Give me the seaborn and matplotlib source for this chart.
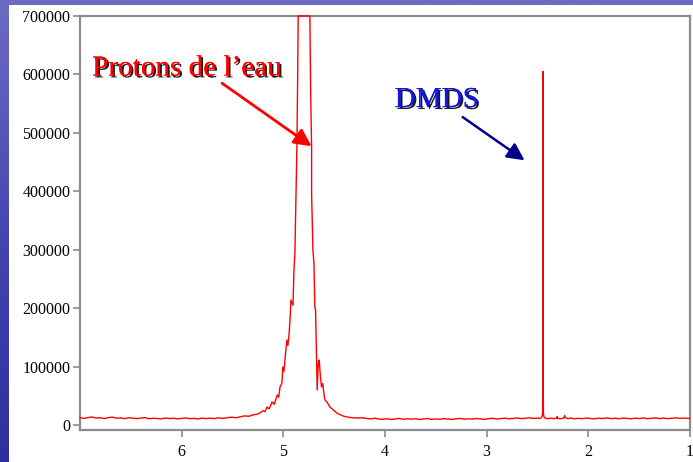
import numpy as np
import matplotlib
matplotlib.use("Agg")
import matplotlib.pyplot as plt
import matplotlib.patheffects as pe
from matplotlib.patches import Rectangle
from matplotlib.colors import LinearSegmentedColormap
import seaborn as sns

# --- 1H spectrum (chemical shift in ppm, intensity) ---
baseline_left_ppm = [7.00, 6.96, 6.92, 6.88, 6.84, 6.80, 6.76, 6.72, 6.68, 6.64, 6.60,
                     6.56, 6.52, 6.48, 6.44, 6.40, 6.36, 6.32, 6.28, 6.24, 6.20, 6.16,
                     6.12, 6.08, 6.04, 6.00, 5.96, 5.92, 5.88, 5.84, 5.80, 5.76, 5.72,
                     5.68, 5.64, 5.60, 5.56, 5.53]
baseline_left_int = [12500, 11200, 12800, 13600, 11900, 12300, 11000, 12700, 13300, 11600, 12100,
                     10800, 12400, 11700, 10900, 11800, 12600, 10700, 11500, 11100, 10400, 11900,
                     11000, 11600, 10500, 11200, 12000, 10800, 11400, 10300, 11700, 11000, 11600,
                     10900, 12200, 11400, 12000, 13100]

water_ppm = [5.50, 5.46, 5.42, 5.38, 5.34, 5.30, 5.26, 5.23, 5.20, 5.18, 5.16, 5.14,
             5.11, 5.09, 5.06, 5.045, 5.033, 5.015, 5.004, 4.994, 4.984, 4.975, 4.965,
             4.955, 4.945, 4.935, 4.925, 4.905, 4.895, 4.886, 4.876, 4.866, 4.858,
             4.854, 4.80, 4.76, 4.739, 4.732, 4.722, 4.722, 4.709, 4.699, 4.690, 4.683,
             4.673, 4.667, 4.657, 4.647, 4.636, 4.624, 4.612, 4.60, 4.591, 4.57, 4.542,
             4.51, 4.473, 4.44, 4.41, 4.375, 4.34, 4.30, 4.26]
water_int = [13200, 12400, 14100, 15600, 14800, 17200, 18400, 20500, 24500, 22800, 30800, 27500,
             39400, 35200, 51300, 47600, 65000, 71000, 99200, 92000, 111200, 128000, 145400,
             136000, 152000, 178000, 213900, 205000, 268000, 294300, 385000, 482500, 612500,
             700000, 700000, 700000, 700000, 578300, 475700, 397000, 299400, 277200, 201900, 196800,
             114600, 59900, 104000, 111200, 84000, 65000, 71000, 52000, 42800, 39000, 30800,
             26000, 20500, 17600, 15200, 13700, 12800, 12100, 12000]

baseline_mid_ppm = [4.22, 4.18, 4.14, 4.10, 4.06, 4.02, 3.98, 3.94, 3.90, 3.86, 3.82,
                    3.78, 3.74, 3.70, 3.66, 3.62, 3.58, 3.54, 3.50, 3.46, 3.42, 3.38,
                    3.34, 3.30, 3.26, 3.22, 3.18, 3.14, 3.10, 3.06, 3.02, 2.98, 2.94,
                    2.90, 2.86, 2.82, 2.78, 2.74, 2.70, 2.66, 2.62, 2.58, 2.54, 2.50]
baseline_mid_int = [12300, 11100, 10400, 11600, 10100, 9800, 10700, 9500, 10200, 11300, 9700,
                    10500, 9900, 10800, 9400, 10300, 11000, 9600, 10400, 9800, 10900, 10100,
                    9500, 10600, 11200, 9900, 10500, 10000, 11100, 10300, 9700, 10800, 11400,
                    10200, 10900, 11700, 10600, 11300, 12000, 10900, 11500, 12300, 11200, 11900]

dmds_ppm = [2.48, 2.465, 2.455, 2.450, 2.448, 2.446, 2.444, 2.442, 2.435, 2.42, 2.40]
dmds_int = [11000, 12200, 14500, 20000, 80000, 605000, 80000, 19400, 13000, 11500, 10800]

baseline_right_ppm = [2.37, 2.34, 2.31, 2.306, 2.30, 2.27, 2.24, 2.234, 2.225, 2.20, 2.17,
                      2.14, 2.10, 2.06, 2.02, 1.98, 1.94, 1.90, 1.86, 1.82, 1.78, 1.74,
                      1.70, 1.66, 1.62, 1.58, 1.54, 1.50, 1.46, 1.42, 1.38, 1.34, 1.30,
                      1.26, 1.22, 1.18, 1.14, 1.10, 1.06, 1.02, 1.00]
baseline_right_int = [11600, 10900, 11800, 14500, 11200, 10700, 11900, 16000, 12500, 11000, 11800,
                      10600, 11400, 10800, 11900, 11100, 10500, 11700, 11000, 12100, 10900, 11500,
                      10700, 11800, 11200, 10600, 11600, 11100, 12000, 10800, 11400, 12200, 11000,
                      11700, 10900, 11500, 12100, 11300, 11800, 11200, 11900]

x_ticks = [6, 5, 4, 3, 2, 1]
y_ticks = [0, 100000, 200000, 300000, 400000, 500000, 600000, 700000]

ppm = baseline_left_ppm + water_ppm + baseline_mid_ppm + dmds_ppm + baseline_right_ppm
intensity = baseline_left_int + water_int + baseline_mid_int + dmds_int + baseline_right_int

sns.set_style("white")
plt.rcParams["font.family"] = ["Liberation Serif", "DejaVu Serif"]

W, H = 693, 462
fig = plt.figure(figsize=(W / 100, H / 100), dpi=100)

# slide background: blue gradient with a white panel
bg = fig.add_axes([0, 0, 1, 1])
bg.set_axis_off()
cmap = LinearSegmentedColormap.from_list("slide", ["#6c6cc4", "#4646b0", "#2e2e9e"])
grad = np.linspace(0, 1, 256).reshape(-1, 1)
bg.imshow(grad, aspect="auto", cmap=cmap, extent=[0, 1, 0, 1], origin="upper")
bg.add_patch(Rectangle((9 / W, 0), 1, (H - 5) / H, transform=bg.transAxes,
                       facecolor="white", edgecolor="none"))
bg.set_xlim(0, 1)
bg.set_ylim(0, 1)

ax = fig.add_axes([80 / W, (H - 430) / H, (690 - 80) / W, (430 - 16) / H])
ax.set_facecolor("white")

sns.lineplot(x=ppm, y=intensity, ax=ax, estimator=None, sort=False,
             errorbar=None, color="#ff0000", linewidth=1.0)
for ln in ax.lines:
    ln.set_clip_on(False)
    ln.set_zorder(3)

ax.set_xlim(7.0, 1.0)
ax.set_ylim(-8600, 700000)
ax.set_xticks(x_ticks)
ax.set_xticklabels([str(t) for t in x_ticks])
ax.set_yticks(y_ticks)
ax.set_yticklabels([str(t) for t in y_ticks])
ax.tick_params(axis="both", direction="out", length=5, width=1.2, color="#8c8c8c",
               labelsize=11.5, labelcolor="black", pad=2)
ax.tick_params(axis="x", pad=5)
ax.tick_params(bottom=True, left=True)
for s in ax.spines.values():
    s.set_visible(True)
    s.set_color("#8c8c8c")
    s.set_linewidth(1.6)
ax.set_xlabel("")
ax.set_ylabel("")

shadow = [pe.withSimplePatchShadow(offset=(1.3, -1.3), shadow_rgbFace="black", alpha=0.9),
          pe.Normal()]

ax.text(6.88, 598000, "Protons de l\u2019eau", color="#ff0000", fontsize=21,
        ha="left", va="baseline", path_effects=shadow, zorder=5)
ax.annotate("", xy=(4.722, 477000), xytext=(5.603, 585000),
            arrowprops=dict(arrowstyle="-|>", color="#ff0000", lw=2.0,
                            mutation_scale=26, shrinkA=0, shrinkB=0), zorder=5)

ax.text(3.905, 544000, "DMDS", color="#1414e6", fontsize=21,
        ha="left", va="baseline", path_effects=shadow, zorder=5)
ax.annotate("", xy=(2.627, 453000), xytext=(3.236, 527000),
            arrowprops=dict(arrowstyle="-|>", color="#00008b", lw=1.8,
                            mutation_scale=26, shrinkA=0, shrinkB=0), zorder=5)

fig.savefig("out.png", dpi=100)
